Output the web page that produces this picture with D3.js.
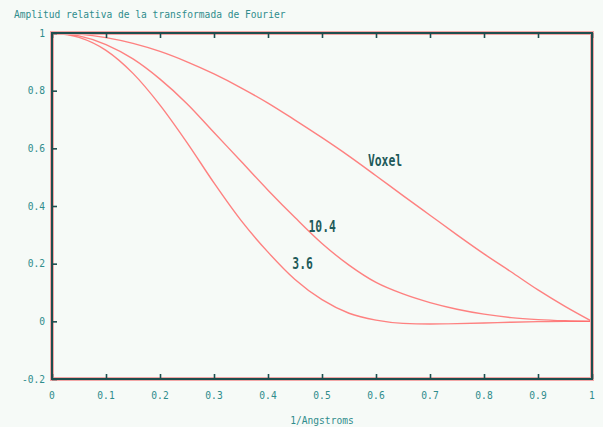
<!DOCTYPE html>
<html>
<head>
<meta charset="utf-8">
<script src="https://cdn.jsdelivr.net/npm/d3@7"></script>
<style>
  html, body { margin: 0; padding: 0; background: #f6faf7; }
  svg { display: block; }
  text { font-family: "DejaVu Sans Mono", "Liberation Mono", monospace; }
</style>
</head>
<body>
<svg id="chart" width="603" height="427"></svg>
<script>
// Spatial frequency samples (1/Å)
const freq = [0, 0.05, 0.1, 0.15, 0.2, 0.25, 0.3, 0.35, 0.4, 0.45, 0.5,
              0.55, 0.6, 0.65, 0.7, 0.75, 0.8, 0.85, 0.9, 0.95, 1];
// Relative amplitude of each transfer curve
const voxelAmp = [1, 0.996, 0.984, 0.964, 0.936, 0.90, 0.858, 0.81, 0.757, 0.698, 0.637,
                  0.573, 0.505, 0.436, 0.368, 0.30, 0.234, 0.172, 0.109, 0.052, 0];
const amp104   = [1, 0.99, 0.96, 0.91, 0.84, 0.755, 0.655, 0.555, 0.455, 0.36, 0.27,
                  0.195, 0.135, 0.095, 0.065, 0.042, 0.025, 0.013, 0.006, 0.002, 0];
const amp36    = [1, 0.985, 0.94, 0.86, 0.75, 0.62, 0.48, 0.35, 0.24, 0.145, 0.075,
                  0.028, 0.004, -0.007, -0.009, -0.008, -0.006, -0.003, -0.001, 0, 0];
const seriesNames = ["Voxel", "10.4", "3.6"];
const xTicks = [0, 0.1, 0.2, 0.3, 0.4, 0.5, 0.6, 0.7, 0.8, 0.9, 1];
const yTicks = [-0.2, 0, 0.2, 0.4, 0.6, 0.8, 1];
const titleText = "Amplitud relativa de la transformada de Fourier";
const xLabelText = "1/Angstroms";

const svg = d3.select("#chart");
const plotL = 52, plotR = 592, plotT = 33, plotB = 379;

const x = d3.scaleLinear().domain([0, 1]).range([plotL, plotR]);
const y = d3.scaleLinear().domain([-0.2, 1]).range([plotB, plotT]);

const axisDark = "#1d4e4e";
const halo = "#f3a6a6";
const labelTeal = "#2f8c8c";
const curveRed = "#ff6b6b";

// Title
svg.append("text")
  .attr("x", 14).attr("y", 18)
  .attr("font-size", 9.6)
  .attr("fill", labelTeal)
  .text(titleText);

// Curves
const line = d3.line()
  .x(d => x(d[0]))
  .y(d => y(d[1]))
  .curve(d3.curveMonotoneX);

const seriesValues = [voxelAmp, amp104, amp36];
seriesValues.forEach(vals => {
  svg.append("path")
    .datum(freq.map((f, i) => [f, vals[i]]))
    .attr("d", line)
    .attr("fill", "none")
    .attr("stroke", curveRed)
    .attr("stroke-width", 1.4)
    .attr("stroke-opacity", 0.85);
});

// Frame: pink halo under dark border
const frame = svg.append("g");
frame.append("rect")
  .attr("x", plotL).attr("y", plotT)
  .attr("width", plotR - plotL).attr("height", plotB - plotT)
  .attr("fill", "none").attr("stroke", halo).attr("stroke-width", 4);
frame.append("rect")
  .attr("x", plotL).attr("y", plotT)
  .attr("width", plotR - plotL).attr("height", plotB - plotT)
  .attr("fill", "none").attr("stroke", axisDark).attr("stroke-width", 2);

// Axes with inward ticks
const xAxisBottom = d3.axisTop(x).tickValues(xTicks).tickSize(5).tickFormat("");
const xAxisTop = d3.axisBottom(x).tickValues(xTicks).tickSize(5).tickFormat("");
const yAxisLeft = d3.axisRight(y).tickValues(yTicks).tickSize(5).tickFormat("");

function styleAxis(g) {
  g.select(".domain").remove();
  g.selectAll(".tick line").attr("stroke", axisDark).attr("stroke-width", 1.6);
  g.selectAll(".tick text").remove();
}
svg.append("g").attr("transform", `translate(0,${plotB})`).call(xAxisBottom).call(styleAxis);
svg.append("g").attr("transform", `translate(0,${plotT})`).call(xAxisTop).call(styleAxis);
svg.append("g").attr("transform", `translate(${plotL},0)`).call(yAxisLeft).call(styleAxis);

// Tick labels
const fmt = v => (v === 0 || v === 1) ? String(v) : String(+v.toFixed(1));
svg.append("g").selectAll("text")
  .data(xTicks).join("text")
  .attr("x", d => x(d)).attr("y", 399)
  .attr("text-anchor", "middle")
  .attr("font-size", 9.6)
  .attr("fill", labelTeal)
  .text(fmt);

svg.append("g").selectAll("text")
  .data(yTicks).join("text")
  .attr("x", 45).attr("y", d => y(d) + 3.5)
  .attr("text-anchor", "end")
  .attr("font-size", 9.6)
  .attr("fill", labelTeal)
  .text(fmt);

// X axis title
svg.append("text")
  .attr("x", 322).attr("y", 424)
  .attr("text-anchor", "middle")
  .attr("font-size", 9.6)
  .attr("fill", labelTeal)
  .text(xLabelText);

// Curve labels
const labelPos = [
  { name: seriesNames[0], f: 0.585, v: 0.537 },
  { name: seriesNames[1], f: 0.475, v: 0.31 },
  { name: seriesNames[2], f: 0.445, v: 0.18 }
];
labelPos.forEach(p => {
  svg.append("text")
    .attr("transform", `translate(${x(p.f)},${y(p.v)}) scale(0.95,1.35)`)
    .attr("font-size", 12)
    .attr("font-weight", "bold")
    .attr("fill", "#1f5a5a")
    .text(p.name);
});
</script>
</body>
</html>
